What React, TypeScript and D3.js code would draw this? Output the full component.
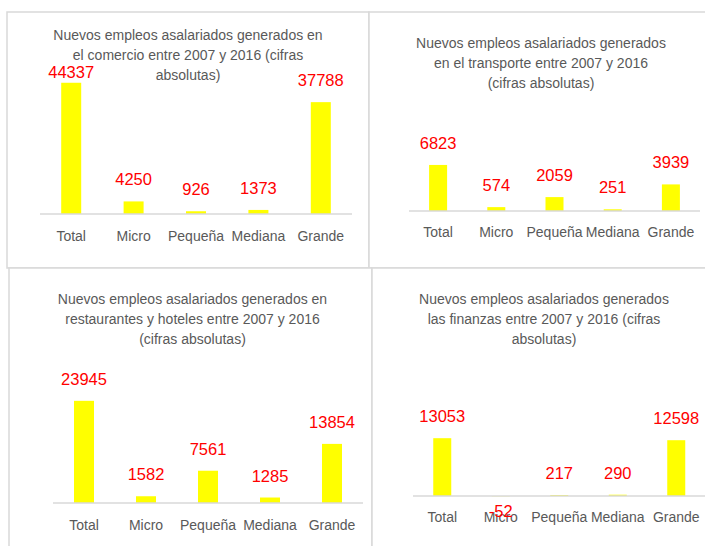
import React from "react";
import * as d3 from "d3";

const categories = ["Total", "Micro", "Pequeña", "Mediana", "Grande"];

const comercio = [44337, 4250, 926, 1373, 37788];
const transporte = [6823, 574, 2059, 251, 3939];
const restaurantes = [23945, 1582, 7561, 1285, 13854];
const finanzas = [13053, -52, 217, 290, 12598];

const titleComercio = [
  "Nuevos empleos asalariados generados en",
  "el comercio entre 2007 y 2016 (cifras",
  "absolutas)",
];
const titleTransporte = [
  "Nuevos empleos asalariados generados",
  "en el transporte entre 2007 y 2016",
  "(cifras absolutas)",
];
const titleRestaurantes = [
  "Nuevos empleos asalariados generados en",
  "restaurantes y hoteles entre 2007 y 2016",
  "(cifras absolutas)",
];
const titleFinanzas = [
  "Nuevos empleos asalariados generados",
  "las finanzas entre 2007 y 2016 (cifras",
  "absolutas)",
];

const FONT = "'Liberation Sans', Arial, sans-serif";
const GREY = "#595959";
const BORDER = "#d9d9d9";

type Layout = {
  box: [number, number, number, number];
  titleX: number;
  titleY: number;
  axisY: number;
  x0: number;
  x1: number;
  yMax: number;
  plotTop: number;
  barW: number;
  catY: number;
  labelMinY: number;
};

const panels: { title: string[]; values: number[]; layout: Layout }[] = [
  {
    title: titleComercio,
    values: comercio,
    layout: {
      box: [7, 12, 369, 268],
      titleX: 188,
      titleY: 40,
      axisY: 214,
      x0: 40,
      x1: 352,
      yMax: 50000,
      plotTop: 66,
      barW: 20,
      catY: 241,
      labelMinY: 78,
    },
  },
  {
    title: titleTransporte,
    values: transporte,
    layout: {
      box: [369, 12, 708, 268],
      titleX: 541,
      titleY: 48,
      axisY: 211,
      x0: 409,
      x1: 700,
      yMax: 8000,
      plotTop: 157,
      barW: 18,
      catY: 237,
      labelMinY: 0,
    },
  },
  {
    title: titleRestaurantes,
    values: restaurantes,
    layout: {
      box: [9, 268, 372, 550],
      titleX: 192.5,
      titleY: 304,
      axisY: 503,
      x0: 53,
      x1: 363,
      yMax: 30000,
      plotTop: 375,
      barW: 20,
      catY: 530,
      labelMinY: 0,
    },
  },
  {
    title: titleFinanzas,
    values: finanzas,
    layout: {
      box: [372, 268, 708, 550],
      titleX: 544,
      titleY: 304,
      axisY: 496,
      x0: 413,
      x1: 705.5,
      yMax: 14000,
      plotTop: 434,
      barW: 18,
      catY: 522,
      labelMinY: 0,
    },
  },
];

function Panel({ title, values, layout }: { title: string[]; values: number[]; layout: Layout }) {
  const L = layout;
  const x = d3.scaleBand<string>().domain(categories).range([L.x0, L.x1]);
  const y = d3.scaleLinear().domain([0, L.yMax]).range([L.axisY, L.plotTop]);
  const [bx0, by0, bx1, by1] = L.box;
  return (
    <g>
      <rect
        x={bx0}
        y={by0}
        width={bx1 - bx0}
        height={by1 - by0}
        fill="#fff"
        stroke={BORDER}
        strokeWidth={1.5}
      />
      <text fontFamily={FONT} fontSize={14} fill={GREY} textAnchor="middle">
        {title.map((t, i) => (
          <tspan key={i} x={L.titleX} y={L.titleY + i * 20}>
            {t}
          </tspan>
        ))}
      </text>
      {values.map((v, i) => {
        const cx = (x(categories[i]) as number) + x.bandwidth() / 2;
        const top = Math.min(y(v), y(0));
        const h = Math.abs(y(v) - y(0));
        return (
          <rect key={"b" + i} x={cx - L.barW / 2} y={top} width={L.barW} height={h} fill="#ffff00" />
        );
      })}
      <line x1={L.x0} x2={L.x1} y1={L.axisY} y2={L.axisY} stroke={BORDER} strokeWidth={1.5} />
      {categories.map((c, i) => {
        const cx = (x(c) as number) + x.bandwidth() / 2;
        return (
          <text key={"c" + i} x={cx} y={L.catY} fontFamily={FONT} fontSize={14} fill={GREY} textAnchor="middle">
            {c}
          </text>
        );
      })}
      {values.map((v, i) => {
        const cx = (x(categories[i]) as number) + x.bandwidth() / 2;
        const ly = v >= 0 ? Math.max(y(v) - 16, L.labelMinY) : y(v) + 21;
        return (
          <text key={"l" + i} x={cx} y={ly} fontFamily={FONT} fontSize={16.5} fill="#ff0000" textAnchor="middle">
            {v}
          </text>
        );
      })}
    </g>
  );
}

export default function App() {
  return (
    <svg
      width={705}
      height={546}
      style={{ position: "absolute", left: 0, top: 0, display: "block", background: "#fff" }}
    >
      <rect x={0} y={0} width={705} height={546} fill="#fff" />
      {panels.map((p, i) => (
        <Panel key={i} title={p.title} values={p.values} layout={p.layout} />
      ))}
    </svg>
  );
}
